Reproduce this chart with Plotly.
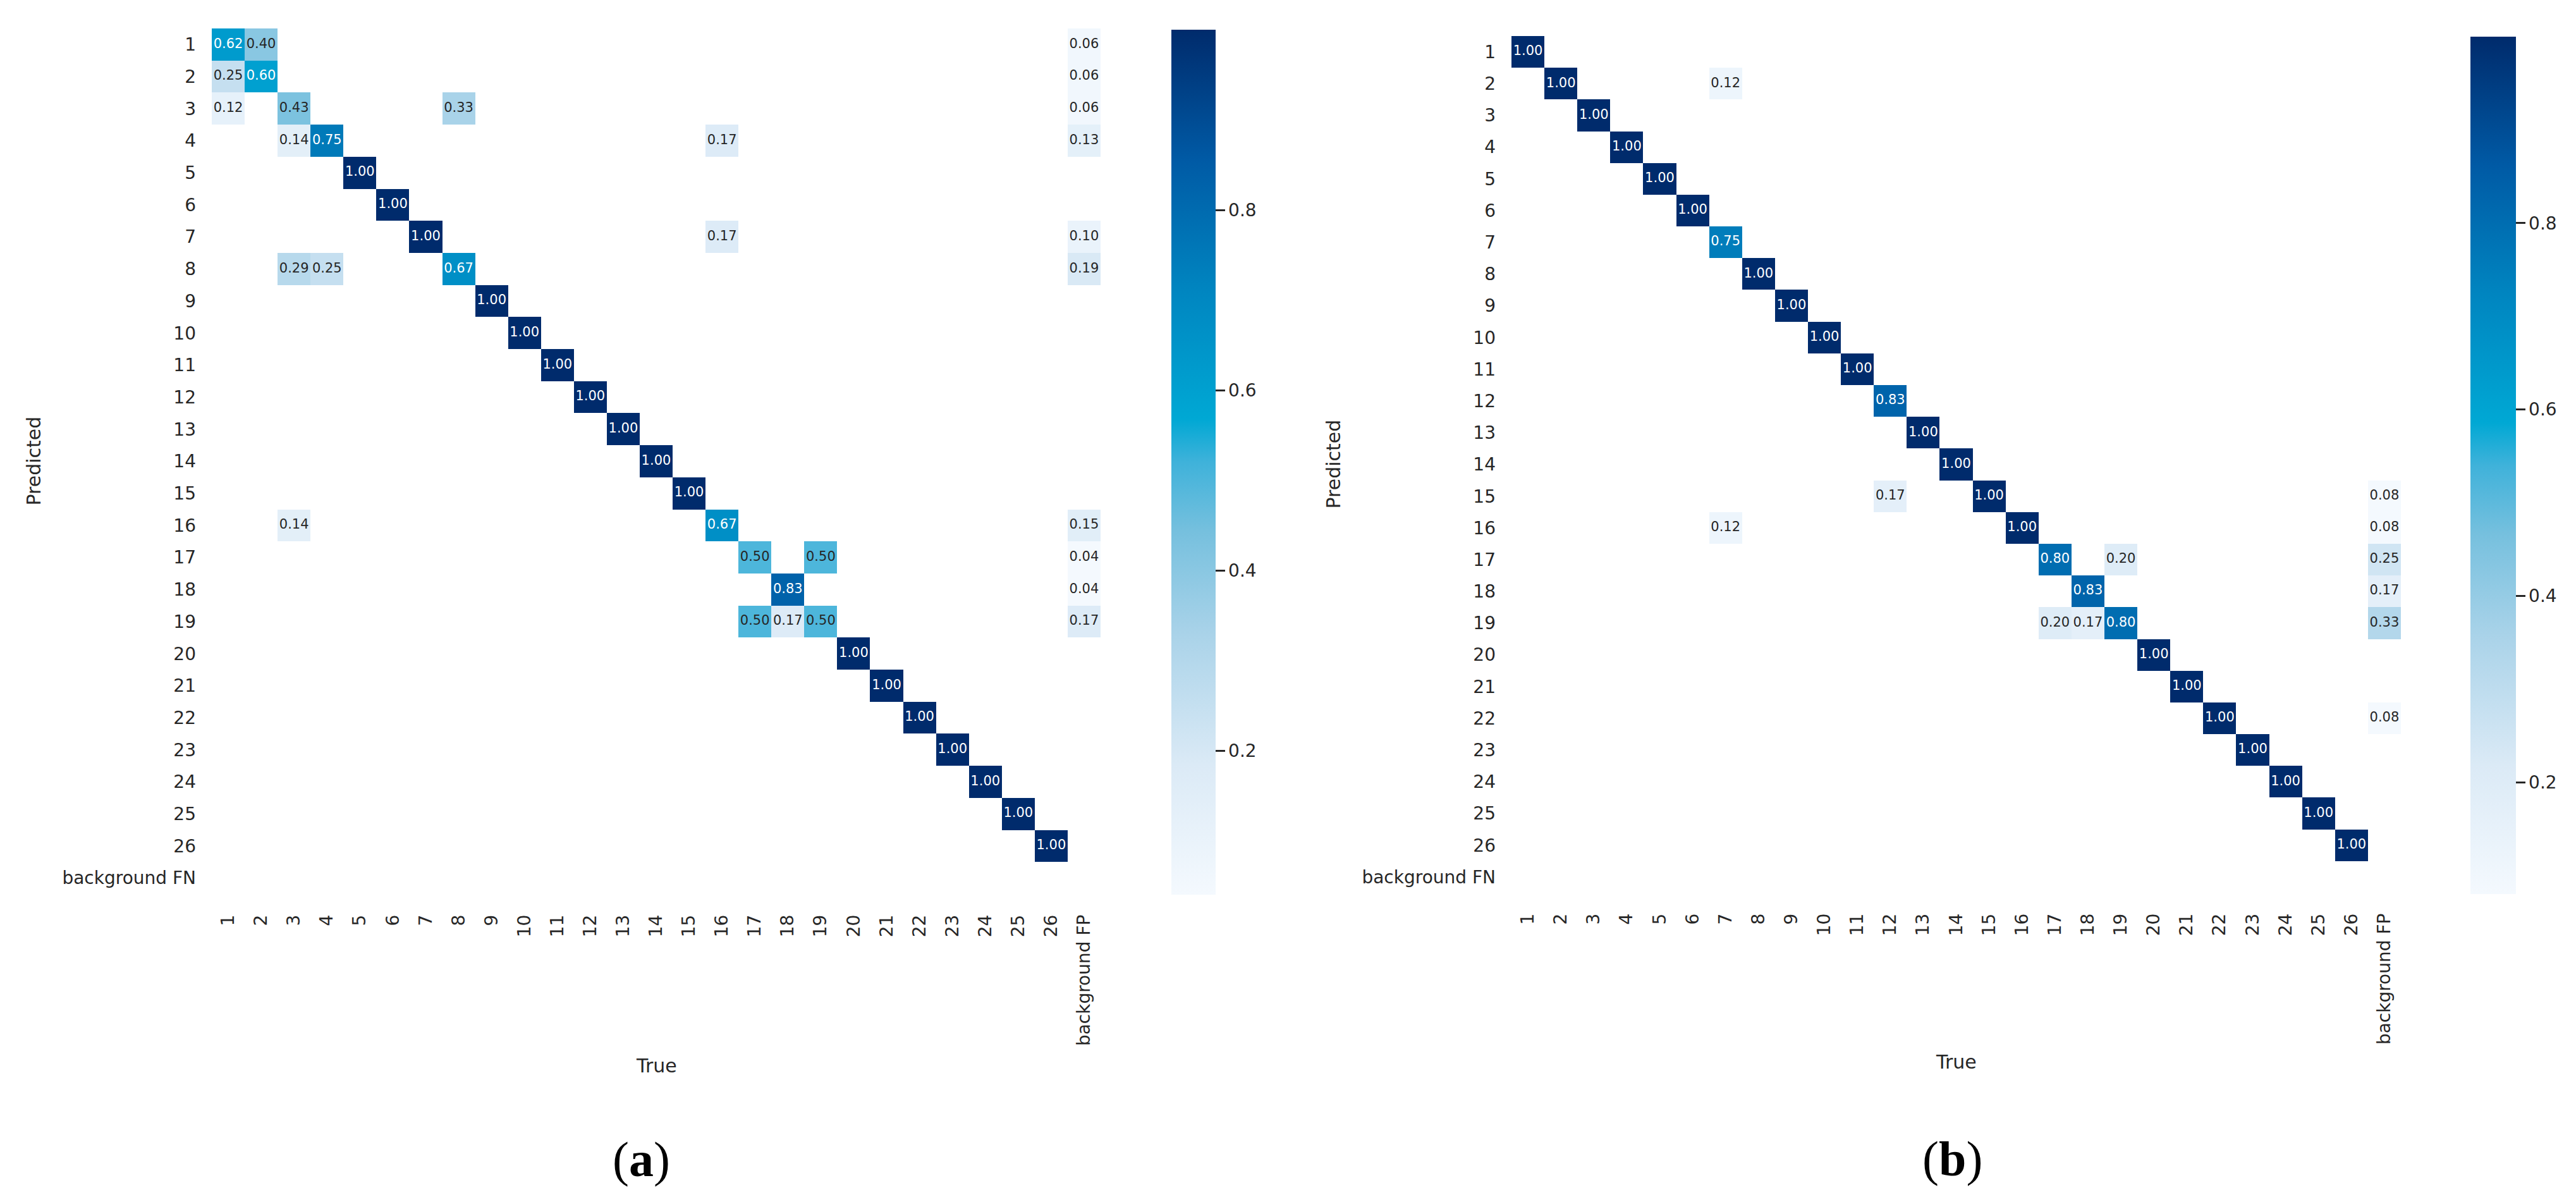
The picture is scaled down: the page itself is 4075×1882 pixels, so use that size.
import numpy as np
import plotly.graph_objects as go

# ---------------- data ----------------
classes = [str(i) for i in range(1, 27)]
true_labels = classes + ["background FP"]
pred_labels = classes + ["background FN"]

# (a) diagonal values for classes 1..26
a_diag = [0.62, 0.60, 0.43, 0.75, 1.00, 1.00, 1.00, 0.67, 1.00, 1.00, 1.00, 1.00, 1.00,
          1.00, 1.00, 0.67, 0.50, 0.83, 0.50, 1.00, 1.00, 1.00, 1.00, 1.00, 1.00, 1.00]
# (a) off-diagonal entries (predicted, true, value)
a_off_pred = ["1", "2", "3", "3", "4", "4", "7", "8", "8", "16", "17", "19", "19"]
a_off_true = ["2", "1", "1", "8", "3", "16", "16", "3", "4", "3", "19", "17", "18"]
a_off_val = [0.40, 0.25, 0.12, 0.33, 0.14, 0.17, 0.17, 0.29, 0.25, 0.14, 0.50, 0.50, 0.17]
# (a) background FP column
a_fp_pred = ["1", "2", "3", "4", "7", "8", "16", "17", "18", "19"]
a_fp_val = [0.06, 0.06, 0.06, 0.13, 0.10, 0.19, 0.15, 0.04, 0.04, 0.17]

# (b) diagonal values
b_diag = [1.00, 1.00, 1.00, 1.00, 1.00, 1.00, 0.75, 1.00, 1.00, 1.00, 1.00, 0.83, 1.00,
          1.00, 1.00, 1.00, 0.80, 0.83, 0.80, 1.00, 1.00, 1.00, 1.00, 1.00, 1.00, 1.00]
b_off_pred = ["2", "15", "16", "17", "19", "19"]
b_off_true = ["7", "12", "7", "19", "17", "18"]
b_off_val = [0.12, 0.17, 0.12, 0.20, 0.20, 0.17]
b_fp_pred = ["15", "16", "17", "18", "19", "22"]
b_fp_val = [0.08, 0.08, 0.25, 0.17, 0.33, 0.08]

# ---------------- styling ----------------
W, H = 4075, 1882
FONT = "DejaVu Sans"
TXT = "#262626"

colorscale = [
    [0.00, "#f4f9fe"], [0.15, "#dbeaf6"], [0.30, "#aad3e9"], [0.42, "#76c0de"],
    [0.50, "#3fb2da"], [0.55, "#00a8d4"], [0.70, "#0085c0"], [0.85, "#005aa5"],
    [1.00, "#002b6c"],
]


def build(diag, op, ot, ov, fpp, fpv):
    z = np.full((len(pred_labels), len(true_labels)), np.nan)
    for i, v in enumerate(diag):
        z[i, i] = v
    for p, t, v in zip(op, ot, ov):
        z[pred_labels.index(p), true_labels.index(t)] = v
    for p, v in zip(fpp, fpv):
        z[pred_labels.index(p), true_labels.index("background FP")] = v
    return z


panels = [
    dict(z=build(a_diag, a_off_pred, a_off_true, a_off_val, a_fp_pred, a_fp_val),
         hx=(327, 1733), hy=(37, 1406), cbx=1845, cby=(39, 1407),
         pred_x=45, true_y=1677, lab_x=1006, lab_y=1825, tag="a"),
    dict(z=build(b_diag, b_off_pred, b_off_true, b_off_val, b_fp_pred, b_fp_val),
         hx=(2383, 3790), hy=(49, 1404), cbx=3900, cby=(50, 1406),
         pred_x=2101, true_y=1671, lab_x=3080, lab_y=1824, tag="b"),
]

fig = go.Figure()
annotations = []
for k, p in enumerate(panels, start=1):
    z = p["z"]
    zmin = float(np.nanmin(z))
    zmax = float(np.nanmax(z))
    xa = "x" if k == 1 else f"x{k}"
    ya = "y" if k == 1 else f"y{k}"
    zt = [[None if np.isnan(v) else float(v) for v in row] for row in z]
    fig.add_trace(go.Heatmap(
        z=zt, x=true_labels, y=pred_labels, xaxis=xa, yaxis=ya,
        colorscale=colorscale, zmin=zmin, zmax=zmax, hoverongaps=False,
        colorbar=dict(
            x=p["cbx"] / W, xanchor="left", xpad=0, ypad=0,
            y=1 - (p["cby"][0] + p["cby"][1]) / 2 / H, yanchor="middle",
            len=p["cby"][1] - p["cby"][0], lenmode="pixels",
            thickness=(72 if k == 2 else 70), thicknessmode="pixels",
            outlinewidth=0, tickvals=[0.2, 0.4, 0.6, 0.8],
            ticks="outside", ticklen=15, tickwidth=3, tickcolor=TXT,
            tickfont=dict(family=FONT, size=28, color=TXT),
        ),
    ))
    # cell annotations
    tx, ty, tt, tc = [], [], [], []
    for i, pl in enumerate(pred_labels):
        for j, tl in enumerate(true_labels):
            v = z[i, j]
            if np.isnan(v):
                continue
            tx.append(tl)
            ty.append(pl)
            tt.append(f"{v:.2f}")
            norm = (v - zmin) / (zmax - zmin)
            tc.append("white" if norm > 0.52 else TXT)
    fig.add_trace(go.Scatter(
        x=tx, y=ty, text=tt, mode="text", xaxis=xa, yaxis=ya,
        textfont=dict(family=FONT, size=21, color=tc), hoverinfo="skip",
        showlegend=False,
    ))
    xdom = [p["hx"][0] / W, p["hx"][1] / W]
    ydom = [1 - p["hy"][1] / H, 1 - p["hy"][0] / H]
    xname = "xaxis" if k == 1 else f"xaxis{k}"
    yname = "yaxis" if k == 1 else f"yaxis{k}"
    fig.update_layout({
        xname: dict(domain=xdom, anchor=ya, type="category",
                    categoryorder="array", categoryarray=true_labels,
                    range=[-0.5, len(true_labels) - 0.5],
                    showgrid=False, zeroline=False, showline=False, ticks="",
                    tickangle=-90, ticklabelstandoff=26,
                    tickfont=dict(family=FONT, size=28, color=TXT)),
        yname: dict(domain=ydom, anchor=xa, type="category",
                    categoryorder="array", categoryarray=pred_labels,
                    range=[len(pred_labels) - 0.5, -0.5],
                    showgrid=False, zeroline=False, showline=False, ticks="",
                    ticklabelstandoff=24,
                    tickfont=dict(family=FONT, size=28, color=TXT)),
    })
    annotations += [
        dict(text="Predicted", x=p["pred_x"] / W, y=1 - (p["hy"][0] + p["hy"][1]) / 2 / H,
             xref="paper", yref="paper", textangle=-90, showarrow=False,
             xanchor="center", yanchor="middle",
             font=dict(family=FONT, size=30, color=TXT)),
        dict(text="True", x=(p["hx"][0] + p["hx"][1]) / 2 / W, y=1 - p["true_y"] / H,
             xref="paper", yref="paper", showarrow=False,
             xanchor="center", yanchor="middle",
             font=dict(family=FONT, size=30, color=TXT)),
        dict(text=f"(<b>{p['tag']}</b>)", x=p["lab_x"] / W, y=1 - p["lab_y"] / H,
             xref="paper", yref="paper", showarrow=False,
             xanchor="center", yanchor="middle",
             font=dict(family="Liberation Serif", size=78, color="black")),
    ]

fig.update_layout(
    width=W, height=H, margin=dict(l=0, r=0, t=0, b=0),
    paper_bgcolor="white", plot_bgcolor="white", showlegend=False,
    annotations=annotations,
)
fig.write_html("out.html")
